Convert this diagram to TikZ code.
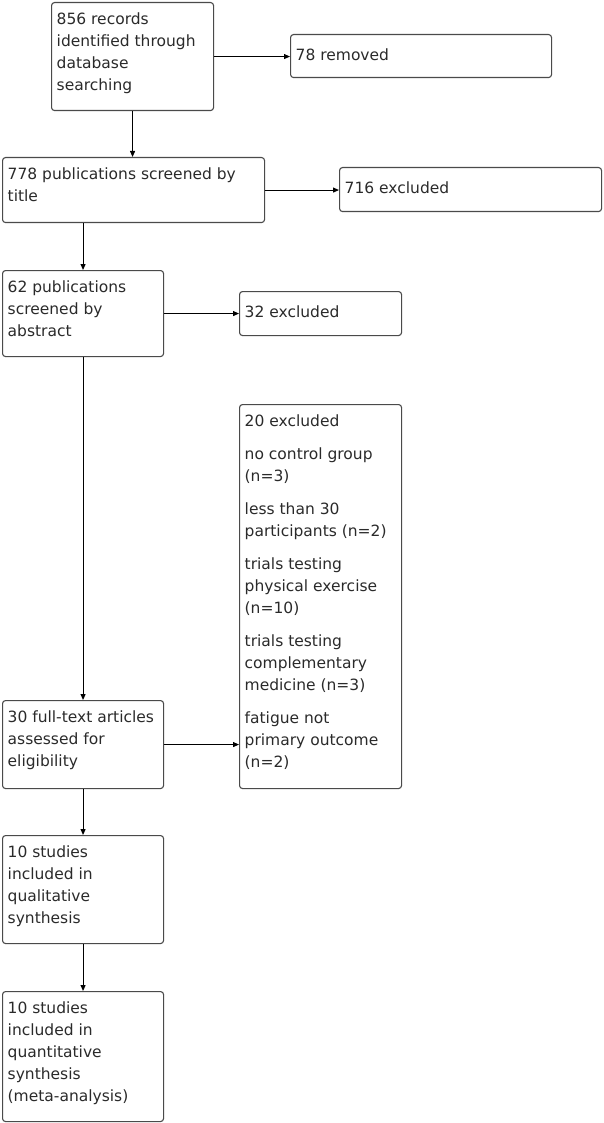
\documentclass[tikz,border=0pt]{standalone}
\usepackage{fontspec}
\setmainfont{DejaVu Sans}
\usetikzlibrary{arrows.meta}
\definecolor{boxgray}{HTML}{4A4A4A}
\definecolor{textcol}{HTML}{2A2A2A}
\begin{document}
\begin{tikzpicture}[x=1pt,y=-1pt,
  box/.style={draw=boxgray, line width=1.1pt, rounded corners=3pt, anchor=north west, inner sep=0pt},
  txt/.style={anchor=north west, inner sep=0pt, align=left, font=\fontsize{15.5}{22}\selectfont, text=textcol, execute at begin node=\strut},
  conn/.style={line width=1pt, -{Triangle[length=6pt,width=5pt]}}]
\useasboundingbox (0,0) rectangle (603,1123);
% boxes
\node[box, minimum width=162pt, minimum height=108pt] (b1) at (51,2) {};
\node[box, minimum width=261pt, minimum height=43pt] (r1) at (290,34) {};
\node[box, minimum width=262pt, minimum height=65pt] (b2) at (2,157) {};
\node[box, minimum width=262pt, minimum height=44pt] (r2) at (339,167) {};
\node[box, minimum width=161pt, minimum height=86pt] (b3) at (2,270) {};
\node[box, minimum width=162pt, minimum height=44pt] (r3) at (239,291) {};
\node[box, minimum width=162pt, minimum height=384pt] (r4) at (239,404) {};
\node[box, minimum width=161pt, minimum height=88pt] (b4) at (2,700) {};
\node[box, minimum width=161pt, minimum height=108pt] (b5) at (2,835) {};
\node[box, minimum width=161pt, minimum height=130pt] (b6) at (2,991) {};
% texts
\node[txt] (b1t) at (56.5,12.6) {856 records\\identified through\\database\\searching};
\node[txt] (r1t) at (295.5,44.6) {78 removed};
\node[txt] (b2t) at (7.5,167.6) {778 publications screened by\\title};
\node[txt] (r2t) at (344.5,177.6) {716 excluded};
\node[txt] (b3t) at (7.5,280.6) {62 publications\\screened by\\abstract};
\node[txt] (r3t) at (244.5,301.6) {32 excluded};
\node[txt] (r4t) at (244.5,414.6) {20 excluded\\[11pt]no control group\\(n=3)\\[11pt]less than 30\\participants (n=2)\\[11pt]trials testing\\physical exercise\\(n=10)\\[11pt]trials testing\\complementary\\medicine (n=3)\\[11pt]fatigue not\\primary outcome\\(n=2)};
\node[txt] (b4t) at (7.5,710.6) {30 full-text articles\\assessed for\\eligibility};
\node[txt] (b5t) at (7.5,845.6) {10 studies\\included in\\qualitative\\synthesis};
\node[txt] (b6t) at (7.5,1001.6) {10 studies\\included in\\quantitative\\synthesis\\(meta-analysis)};
% connectors
\draw[conn] (b1.east) -- (b1.east -| r1.west);
\draw[conn] (b1.south) -- (b1.south |- b2.north);
\draw[conn] (b2.east) -- (b2.east -| r2.west);
\draw[conn] (b3.north |- b2.south) -- (b3.north);
\draw[conn] (b3.east) -- (b3.east -| r3.west);
\draw[conn] (b3.south) -- (b4.north);
\draw[conn] (b4.east) -- (b4.east -| r4.west);
\draw[conn] (b4.south) -- (b5.north);
\draw[conn] (b5.south) -- (b6.north);
\end{tikzpicture}
\end{document}
